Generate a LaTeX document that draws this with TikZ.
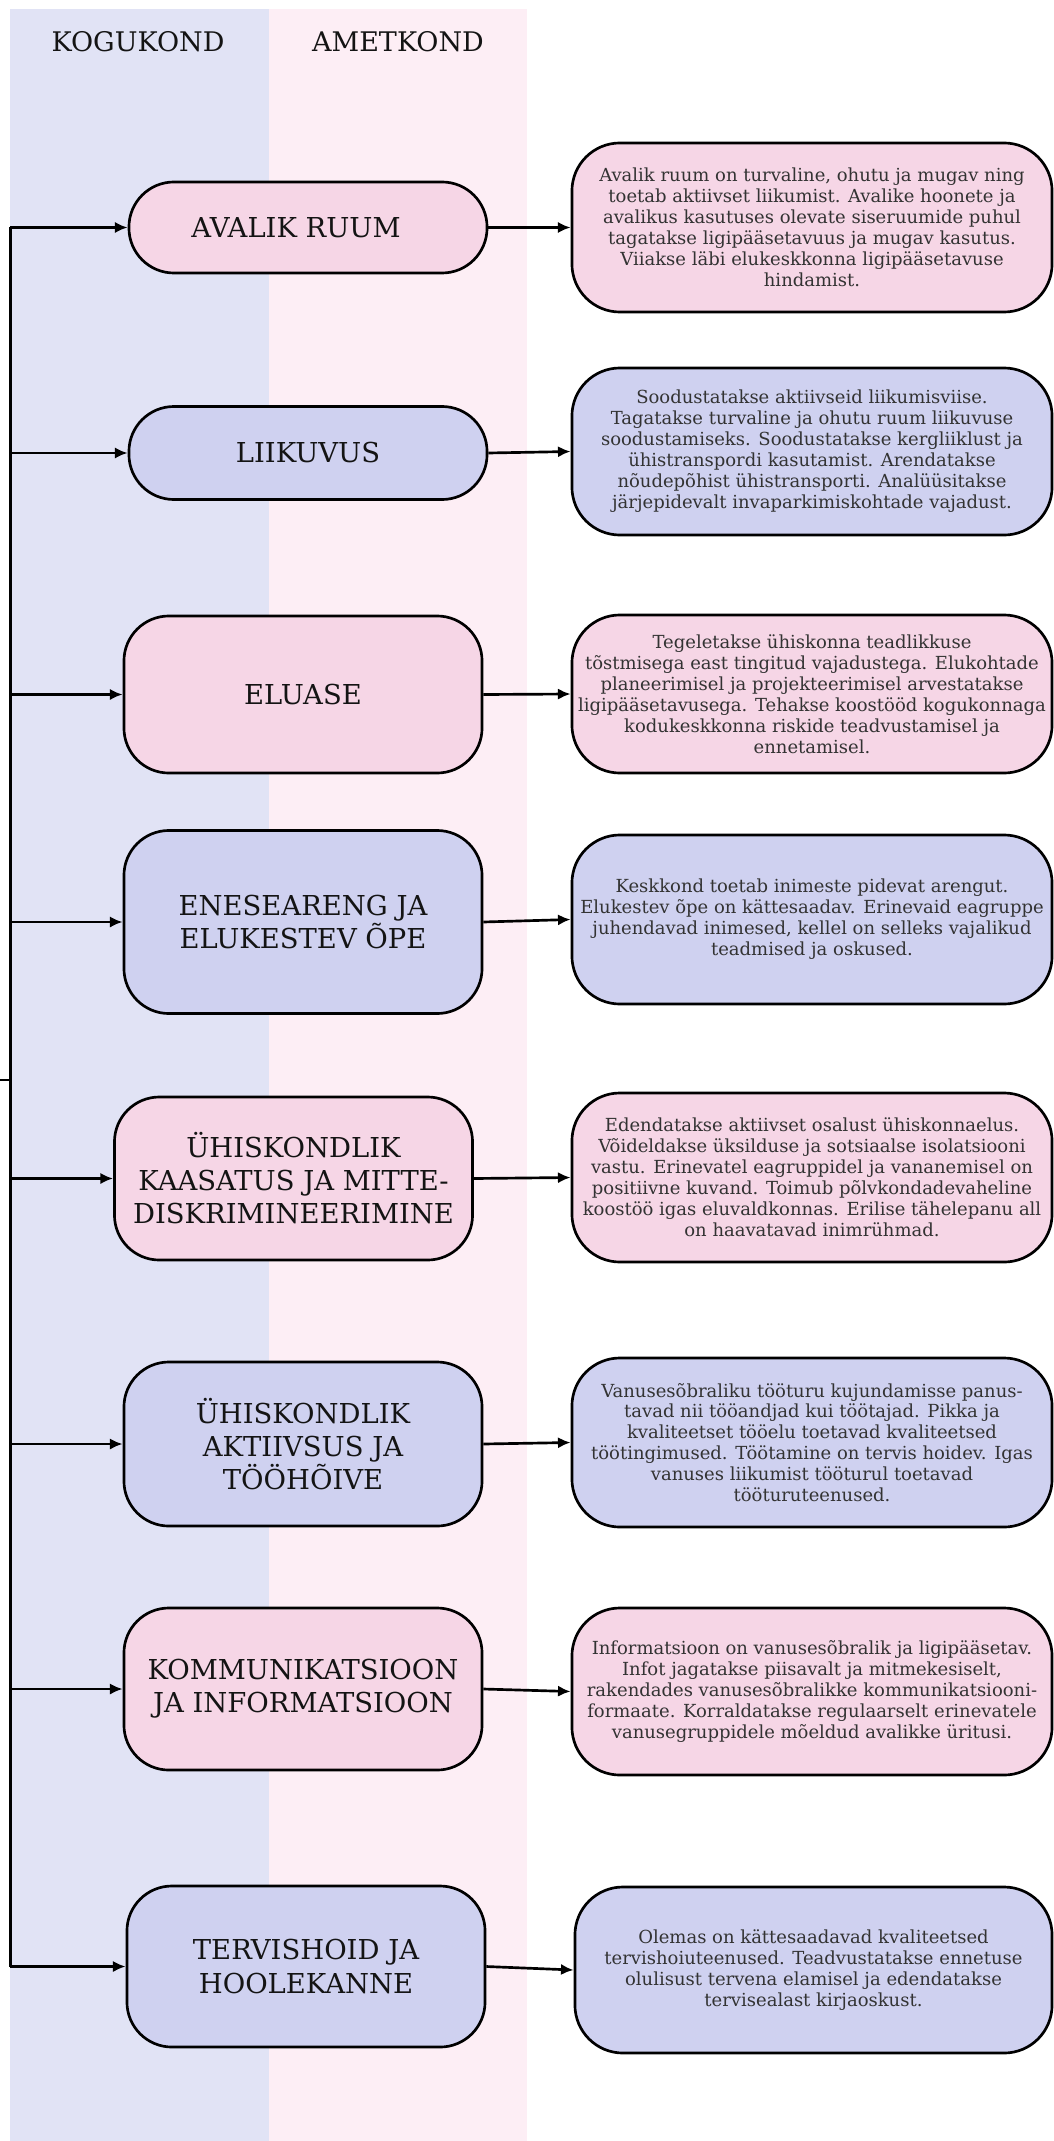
\documentclass[tikz,border=0pt]{standalone}
\usepackage{fontspec}
\setmainfont{DejaVu Serif}
\usetikzlibrary{arrows.meta}

\definecolor{kogutaust}{HTML}{E1E3F5}
\definecolor{ametitaust}{HTML}{FDEEF5}
\definecolor{roosa}{HTML}{F6D6E6}
\definecolor{sinine}{HTML}{CFD1F0}

\tikzset{
  teema/.style={draw, line width=1.9pt, rounded corners=1.125cm, minimum width=8.95cm,
    inner sep=1pt, align=center, text=black!92, font=\fontsize{19.5}{23.5}\selectfont},
  kirjeldus/.style={draw, line width=1.9pt, rounded corners=1.2cm, minimum width=12cm,
    inner sep=0pt, align=center, text=black!80, font=\fontsize{12.8}{14.9}\selectfont},
  pealkiri/.style={text=black!92, font=\fontsize{19.2}{23.5}\selectfont},
  nool/.style={line width=1.9pt, -{Latex[length=9pt,width=8pt]}},
}

\begin{document}
\begin{tikzpicture}[x=0.025cm, y=-0.025cm]
\useasboundingbox (0,0) rectangle (1053,2141);

% veerud
\fill[kogutaust] (9.6,8.6) rectangle (268.6,2141);
\fill[ametitaust] (268.6,8.6) rectangle (527,2141);
\node[pealkiri] (kogukond) at (138,42) {KOGUKOND};
\node[pealkiri] (ametkond) at (398,42) {AMETKOND};

% teemad
\node[teema, fill=roosa, minimum height=2.275cm] (avalik) at (308,227.5) {AVALIK RUUM\hspace*{0.6cm}};
\node[teema, fill=sinine, minimum height=2.325cm] (liikuvus) at (308,453) {LIIKUVUS};
\node[teema, fill=roosa, minimum height=3.925cm] (eluase) at (303,694.5) {ELUASE};
\node[teema, fill=sinine, minimum height=4.575cm] (areng) at (303,922) {ENESEARENG JA\\ELUKESTEV ÕPE};
\node[teema, fill=roosa, minimum height=4.075cm] (kaasatus) at (293.5,1178.5) {ÜHISKONDLIK\\KAASATUS JA MITTE-\\DISKRIMINEERIMINE};
\node[teema, fill=sinine, minimum height=4.1cm] (aktiivsus) at (303,1444) {ÜHISKONDLIK\\AKTIIVSUS JA\\TÖÖHÕIVE};
\node[teema, fill=roosa, minimum height=4.05cm] (info) at (303,1689) {KOMMUNIKATSIOON\\JA INFORMATSIOON};
\node[teema, fill=sinine, minimum height=4.025cm] (tervis) at (306,1966.5) {TERVISHOID JA\\HOOLEKANNE};

% kirjeldused
\node[kirjeldus, fill=roosa, minimum height=4.225cm] (avalikK) at (812,227.5) {Avalik ruum on turvaline, ohutu ja mugav ning\\toetab aktiivset liikumist. Avalike hoonete ja\\avalikus kasutuses olevate siseruumide puhul\\tagatakse ligipääsetavuus ja mugav kasutus.\\Viiakse läbi elukeskkonna ligipääsetavuse\\hindamist.};
\node[kirjeldus, fill=sinine, minimum height=4.175cm] (liikuvusK) at (812,451.5) {Soodustatakse aktiivseid liikumisviise.\\Tagatakse turvaline ja ohutu ruum liikuvuse\\soodustamiseks. Soodustatakse kergliiklust ja\\ühistranspordi kasutamist. Arendatakse\\nõudepõhist ühistransporti. Analüüsitakse\\järjepidevalt invaparkimiskohtade vajadust.};
\node[kirjeldus, fill=roosa, minimum height=3.95cm] (eluaseK) at (812,694) {Tegeletakse ühiskonna teadlikkuse\\tõstmisega east tingitud vajadustega. Elukohtade\\planeerimisel ja projekteerimisel arvestatakse\\ligipääsetavusega. Tehakse koostööd kogukonnaga\\kodukeskkonna riskide teadvustamisel ja\\ennetamisel.};
\node[kirjeldus, fill=sinine, minimum height=4.225cm] (arengK) at (812,919.5) {Keskkond toetab inimeste pidevat arengut.\\Elukestev õpe on kättesaadav. Erinevaid eagruppe\\juhendavad inimesed, kellel on selleks vajalikud\\teadmised ja oskused.};
\node[kirjeldus, fill=roosa, minimum height=4.225cm] (kaasatusK) at (812,1177.5) {Edendatakse aktiivset osalust ühiskonnaelus.\\Võideldakse üksilduse ja sotsiaalse isolatsiooni\\vastu. Erinevatel eagruppidel ja vananemisel on\\positiivne kuvand. Toimub põlvkondadevaheline\\koostöö igas eluvaldkonnas. Erilise tähelepanu all\\on haavatavad inimrühmad.};
\node[kirjeldus, fill=sinine, minimum height=4.225cm] (aktiivsusK) at (812,1442.5) {Vanusesõbraliku tööturu kujundamisse panus-\\tavad nii tööandjad kui töötajad. Pikka ja\\kvaliteetset tööelu toetavad kvaliteetsed\\töötingimused. Töötamine on tervis hoidev. Igas\\vanuses liikumist tööturul toetavad\\tööturuteenused.};
\node[kirjeldus, fill=roosa, minimum height=4.175cm] (infoK) at (812,1691.5) {Informatsioon on vanusesõbralik ja ligipääsetav.\\Infot jagatakse piisavalt ja mitmekesiselt,\\rakendades vanusesõbralikke kommunikatsiooni-\\formaate. Korraldatakse regulaarselt erinevatele\\vanusegruppidele mõeldud avalikke üritusi.};
\node[kirjeldus, fill=sinine, minimum height=4.15cm, minimum width=11.925cm] (tervisK) at (813.5,1970) {Olemas on kättesaadavad kvaliteetsed\\tervishoiuteenused. Teadvustatakse ennetuse\\olulisust tervena elamisel ja edendatakse\\tervisealast kirjaoskust.};

% vasak siin
\coordinate (siin) at (10.3,1080);
\coordinate (algus) at (0,1080);
\draw[line width=1.9pt] (avalik.west -| siin) -- (tervis.west -| siin);
\draw[line width=1.9pt] (algus) -- (siin);

\draw[nool] (avalik.west -| siin) -- (avalik.west);
\draw[nool] (liikuvus.west -| siin) -- (liikuvus.west);
\draw[nool] (eluase.west -| siin) -- (eluase.west);
\draw[nool] (areng.west -| siin) -- (areng.west);
\draw[nool] (kaasatus.west -| siin) -- (kaasatus.west);
\draw[nool] (aktiivsus.west -| siin) -- (aktiivsus.west);
\draw[nool] (info.west -| siin) -- (info.west);
\draw[nool] (tervis.west -| siin) -- (tervis.west);

% teema -> kirjeldus
\draw[nool] (avalik.east) -- (avalikK.west);
\draw[nool] (liikuvus.east) -- (liikuvusK.west);
\draw[nool] (eluase.east) -- (eluaseK.west);
\draw[nool] (areng.east) -- (arengK.west);
\draw[nool] (kaasatus.east) -- (kaasatusK.west);
\draw[nool] (aktiivsus.east) -- (aktiivsusK.west);
\draw[nool] (info.east) -- (infoK.west);
\draw[nool] (tervis.east) -- (tervisK.west);

\end{tikzpicture}
\end{document}
